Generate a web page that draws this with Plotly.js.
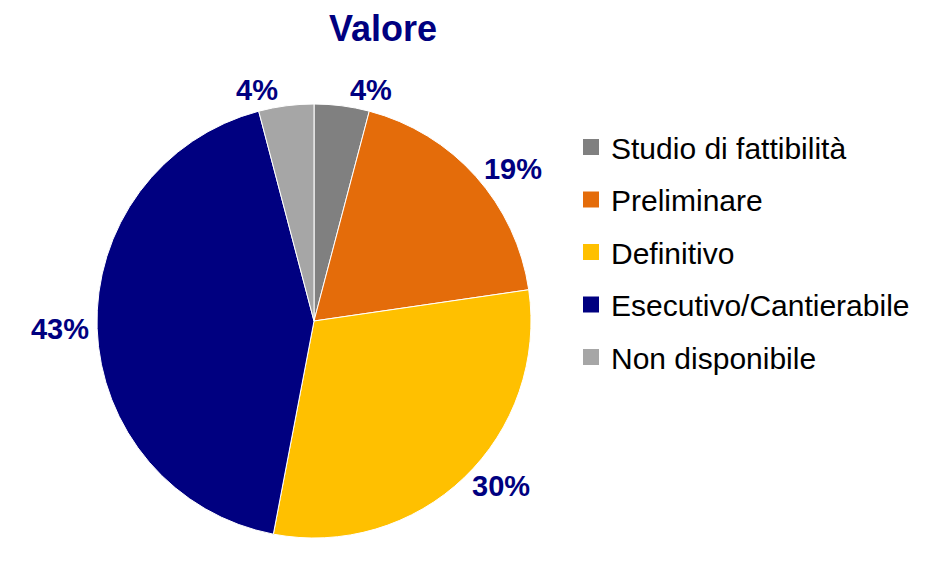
<!DOCTYPE html>
<html><head><meta charset="utf-8">
<script src="https://cdn.plot.ly/plotly-3.0.1.min.js"></script>
<style>html,body{margin:0;padding:0;background:#fff}#chart{width:930px;height:567px}</style>
</head><body><div id="chart"></div>
<script>
const labels = ["Studio di fattibilità", "Preliminare", "Definitivo", "Esecutivo/Cantierabile", "Non disponibile"];
const values = [4.1, 18.6, 30.3, 42.9, 4.1];
const colors = ["#808080", "#E46C0A", "#FFC000", "#000080", "#A6A6A6"];
const titleText = "Valore";

const pie = {
  type: "pie",
  labels: labels,
  values: values,
  sort: false,
  direction: "clockwise",
  rotation: 0,
  marker: {colors: colors, line: {color: "#ffffff", width: 1}},
  textposition: "outside",
  texttemplate: "%{percent:.0%}",
  textfont: {family: "Liberation Sans, Arial, sans-serif", size: 29, color: "#000080", weight: "bold"},
  showlegend: false,
  hoverinfo: "label+percent",
  domain: {x: [(314-217)/930, (314+217)/930], y: [(246-217)/567, (246+217)/567]}
};

const legendTraces = labels.map((l, i) => ({
  type: "scatter", mode: "markers", x: [null], y: [null],
  name: l, legendgroup: "g" + i,
  marker: {symbol: "square", size: 16, color: colors[i]},
  showlegend: true, hoverinfo: "skip"
}));

const layout = {
  width: 930, height: 567,
  margin: {l: 0, r: 0, t: 0, b: 0},
  paper_bgcolor: "#fff", plot_bgcolor: "#fff",
  xaxis: {visible: false}, yaxis: {visible: false},
  title: {text: titleText, x: 383/930, xanchor: "center", y: 1 - 28/567, yanchor: "middle",
    font: {family: "Liberation Sans, Arial, sans-serif", size: 36, color: "#000080", weight: "bold"}},
  showlegend: true,
  legend: {x: 571/930, xanchor: "left", y: 1 - 121/567, yanchor: "top",
    font: {family: "Liberation Sans, Arial, sans-serif", size: 30, color: "#000"},
    tracegroupgap: 10.5, itemsizing: "trace", bgcolor: "rgba(0,0,0,0)"}
};

Plotly.newPlot("chart", [pie].concat(legendTraces), layout, {displayModeBar: false, staticPlot: true});
</script></body></html>
